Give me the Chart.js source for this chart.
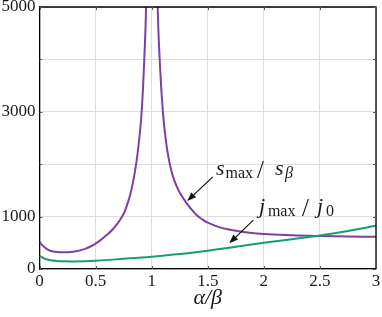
<!DOCTYPE html>
<html><head><meta charset="utf-8">
<script src="https://cdn.jsdelivr.net/npm/chart.js@4"></script>
<style>html,body{margin:0;padding:0;background:#fff;}#wrap{width:382px;height:317px;}</style>
</head><body><div id="wrap"><canvas id="c" width="382" height="317"></canvas></div>
<script>
// alpha/beta values and curves
const sX = [0, 0.025, 0.05, 0.075, 0.1, 0.15, 0.2, 0.25, 0.3, 0.35, 0.4, 0.45, 0.5, 0.55, 0.6, 0.65, 0.7, 0.733, 0.76, 0.79, 0.81, 0.83, 0.85, 0.87, 0.89, 0.911, 0.93, 0.95, 0.97, 1.0, 1.03, 1.054, 1.075, 1.1, 1.125, 1.15, 1.175, 1.2, 1.225, 1.25, 1.3, 1.35, 1.4, 1.45, 1.5, 1.6, 1.7, 1.82, 2.0, 2.25, 2.5, 2.75, 3.0];
const sY = [520, 455, 405, 370, 345, 325, 318, 320, 330, 350, 380, 425, 485, 560, 650, 750, 880, 990, 1100, 1280, 1430, 1620, 1850, 2130, 2500, 3000, 3800, 5000, 8500, null, 9000, 5000, 3850, 3000, 2480, 2130, 1880, 1700, 1570, 1460, 1290, 1150, 1030, 950, 885, 800, 748, 705, 667, 643, 629, 620, 616];
const jX = [0, 0.03, 0.06, 0.1, 0.15, 0.2, 0.3, 0.5, 0.75, 1.0, 1.25, 1.5, 1.75, 2.0, 2.25, 2.5, 2.75, 3.0];
const jY = [248, 215, 185, 165, 152, 147, 145, 159, 195, 235, 285, 350, 425, 500, 568, 640, 725, 825];
const xTicks = [0, 0.5, 1, 1.5, 2, 2.5, 3];
const yTicks = [0, 1000, 2000, 3000, 4000, 5000];
const yTickLabels = ['0', '1000', '', '3000', '', '5000'];

const PURPLE = '#7b41a3';
const GREEN = '#179d74';
const SERIF = '"Liberation Serif", "DejaVu Serif", serif';

function arrow(ctx, x1, y1, x2, y2) {
  const ang = Math.atan2(y2 - y1, x2 - x1);
  const L = 9, W = 3.4;
  const bx = x2 - L * Math.cos(ang), by = y2 - L * Math.sin(ang);
  ctx.beginPath(); ctx.moveTo(x1, y1); ctx.lineTo(bx, by); ctx.stroke();
  ctx.beginPath();
  ctx.moveTo(x2, y2);
  ctx.lineTo(bx + W * Math.sin(ang), by - W * Math.cos(ang));
  ctx.lineTo(bx - W * Math.sin(ang), by + W * Math.cos(ang));
  ctx.closePath(); ctx.fill();
}
function mathText(ctx, x0, b, parts) {
  parts.forEach(p => {
    ctx.font = p.f;
    ctx.fillText(p.t, x0 + p.dx, b + p.dy);
  });
}

const deco = {
  id: 'deco',
  afterDraw(chart) {
    const { ctx, chartArea: a, scales: { x, y } } = chart;
    ctx.save();
    ctx.strokeStyle = '#000'; ctx.lineWidth = 1.3;
    ctx.beginPath(); ctx.moveTo(a.left, a.top); ctx.lineTo(a.right, a.top); ctx.lineTo(a.right, a.bottom); ctx.stroke();
    ctx.strokeStyle = '#555'; ctx.lineWidth = 1;
    ctx.beginPath();
    xTicks.forEach(v => {
      const px = Math.round(x.getPixelForValue(v)) + 0.5;
      ctx.moveTo(px, a.bottom); ctx.lineTo(px, a.bottom - 3);
      ctx.moveTo(px, a.top); ctx.lineTo(px, a.top + 3);
    });
    yTicks.forEach(v => {
      const py = Math.round(y.getPixelForValue(v)) + 0.5;
      ctx.moveTo(a.left, py); ctx.lineTo(a.left + 3, py);
      ctx.moveTo(a.right, py); ctx.lineTo(a.right - 3, py);
    });
    ctx.stroke();
    ctx.strokeStyle = '#111'; ctx.fillStyle = '#111'; ctx.lineWidth = 1.2;
    arrow(ctx, x.getPixelForValue(1.544), y.getPixelForValue(1759), x.getPixelForValue(1.317), y.getPixelForValue(1296));
    arrow(ctx, x.getPixelForValue(1.906), y.getPixelForValue(934), x.getPixelForValue(1.692), y.getPixelForValue(490));
    ctx.fillStyle = '#1a1a1a'; ctx.textBaseline = 'alphabetic'; ctx.textAlign = 'left';
    const I = 'italic 22px ' + SERIF, R = '16px ' + SERIF, S = '25px ' + SERIF, IS = 'italic 16px ' + SERIF;
    mathText(ctx, x.getPixelForValue(1.573), y.getPixelForValue(1792), [
      { t: 's', f: I, dx: 0, dy: 0 },
      { t: 'max', f: R, dx: 9.5, dy: 2.5 },
      { t: '/', f: S, dx: 41, dy: 3 },
      { t: 's', f: I, dx: 59, dy: 0 },
      { t: 'β', f: IS, dx: 69, dy: 3 }
    ]);
    mathText(ctx, x.getPixelForValue(1.947), y.getPixelForValue(1067), [
      { t: 'j', f: I, dx: 1, dy: 0 },
      { t: 'max', f: R, dx: 10, dy: 2.5 },
      { t: '/', f: S, dx: 44, dy: 3 },
      { t: 'j', f: I, dx: 59, dy: 0 },
      { t: '0', f: R, dx: 68, dy: 3 }
    ]);
    ctx.restore();
  }
};

new Chart(document.getElementById('c'), {
  type: 'line',
  data: {
    datasets: [
      {
        label: 'j_max/j_0',
        data: jX.map((v, i) => ({ x: v, y: jY[i] })),
        borderColor: GREEN, borderWidth: 2, pointRadius: 0,
        tension: 0.4, fill: false
      },
      {
        label: 's_max/s_beta',
        data: sX.map((v, i) => ({ x: v, y: sY[i] })),
        borderColor: PURPLE, borderWidth: 2, pointRadius: 0,
        tension: 0.4, spanGaps: false, fill: false
      }
    ]
  },
  options: {
    responsive: false, animation: false,
    layout: { padding: { top: 7, right: 6, left: 0, bottom: 0 } },
    plugins: { legend: { display: false }, tooltip: { enabled: false } },
    scales: {
      x: {
        type: 'linear', min: 0, max: 3,
        afterBuildTicks: s => { s.ticks = xTicks.map(v => ({ value: v })); },
        afterFit: s => { s.height = 48; s.paddingLeft = 0; s.paddingRight = 0; },
        ticks: { font: { family: SERIF, size: 17 }, color: '#1a1a1a', padding: 2, maxRotation: 0, autoSkip: false,
          callback: v => String(v) },
        grid: { color: '#dddddd', lineWidth: 1, drawTicks: false },
        border: { display: true, color: '#000', width: 1.3 },
        title: { display: true, text: 'α/β', font: { family: SERIF, size: 22, style: 'italic' }, color: '#1a1a1a', padding: { top: 0, bottom: 6 } }
      },
      y: {
        type: 'linear', min: 0, max: 5000,
        afterBuildTicks: s => { s.ticks = yTicks.map(v => ({ value: v })); },
        afterFit: s => { s.width = 39.5; s.paddingTop = 0; s.paddingBottom = 0; },
        ticks: { font: { family: SERIF, size: 17 }, color: '#1a1a1a', padding: 4, autoSkip: false,
          callback: (v) => { const i = yTicks.indexOf(v); return i >= 0 ? yTickLabels[i] : ''; } },
        grid: { color: '#dddddd', lineWidth: 1, drawTicks: false },
        border: { display: true, color: '#000', width: 1.3 }
      }
    }
  },
  plugins: [deco]
});
</script>
</body></html>
